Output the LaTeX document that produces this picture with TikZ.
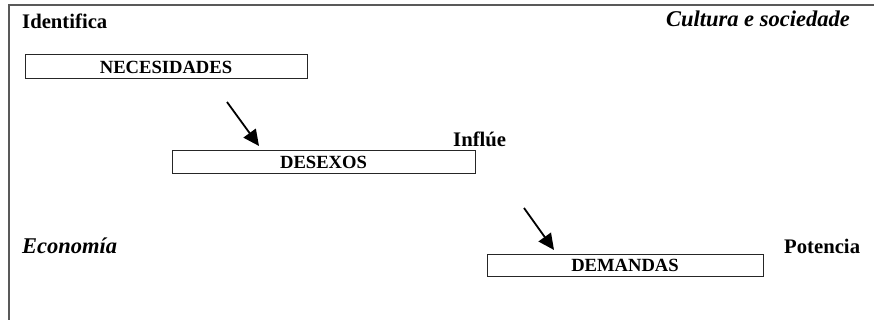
\documentclass[tikz,border=0pt]{standalone}
\usepackage{fontspec}
\setmainfont{Liberation Serif}
\usetikzlibrary{arrows.meta}
\begin{document}
\begin{tikzpicture}[x=1pt, y=-1pt,
  etiq/.style={font=\fontsize{20.7}{24}\selectfont\bfseries, anchor=base west, inner sep=0pt},
  etiqit/.style={etiq, font=\fontsize{22.5}{26}\selectfont\bfseries\itshape},
  caixa/.style={draw=black!85, line width=1pt, inner sep=0pt, font=\fontsize{18.6}{21}\selectfont\bfseries},
  frecha/.style={line width=1.8pt, -{Triangle[length=16pt,width=15pt]}}]
\useasboundingbox (0,0) rectangle (874,320);
\draw[gray!70!black, line width=1.5pt] (9,320) -- (9,5) -- (874,5);
\node[etiq] (ident) at (22,29) {Identifica};
\node[etiqit, anchor=base east] (cult) at (850,27) {Cultura e sociedade};
\node[etiq] (influe) at (453,147) {Inflúe};
\node[etiqit] (econ) at (22,253) {Economía};
\node[etiq] (pot) at (784,253) {Potencia};
\node[caixa, minimum width=282pt, minimum height=24pt] (nec) at (166,67) {NECESIDADES};
\node[caixa, minimum width=303pt, minimum height=23pt] (des) at (323.5,162.5) {DESEXOS};
\node[caixa, minimum width=276pt, minimum height=22pt] (dem) at (625,265) {DEMANDAS};
\coordinate (f1a) at (227,102);
\coordinate (f1b) at (259,146);
\coordinate (f2a) at (524,208);
\coordinate (f2b) at (554,250);
\draw[frecha] (f1a) -- (f1b);
\draw[frecha] (f2a) -- (f2b);
\end{tikzpicture}
\end{document}
